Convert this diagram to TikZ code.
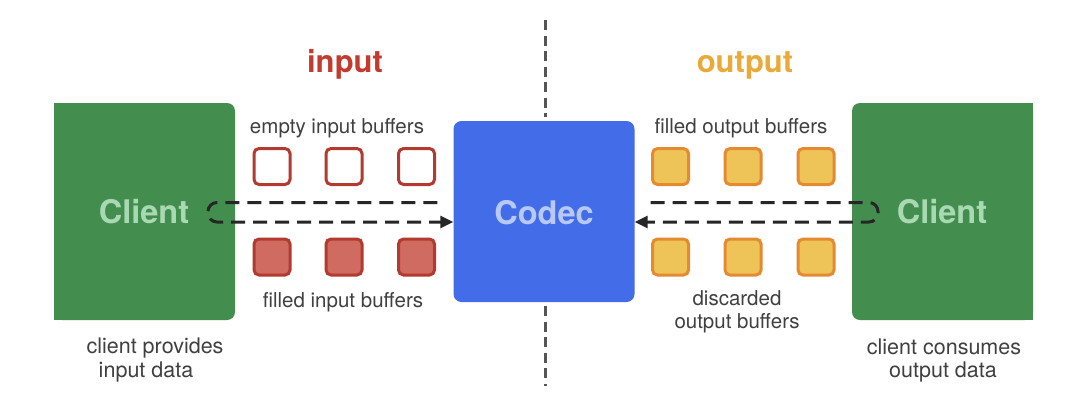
\documentclass[tikz,border=0pt]{standalone}
\usepackage{fontspec}
\setmainfont{TeX Gyre Heros}
\usetikzlibrary{arrows.meta,calc}
\definecolor{clientgreen}{HTML}{438E4E}
\definecolor{clienttext}{HTML}{A9D9B3}
\definecolor{codecblue}{HTML}{436DE8}
\definecolor{codectext}{HTML}{B8C9F7}
\definecolor{redstroke}{HTML}{B23A2F}
\definecolor{redfill}{HTML}{D06B62}
\definecolor{orstroke}{HTML}{E48A31}
\definecolor{orfill}{HTML}{EEC458}
\definecolor{intitle}{HTML}{C33B2F}
\definecolor{outtitle}{HTML}{EAAA3A}
\definecolor{labelgray}{HTML}{404040}
\definecolor{arrowdark}{HTML}{262626}
\definecolor{divgray}{HTML}{555555}
\tikzset{
  clientbox/.style={fill=clientgreen, minimum width=181pt, minimum height=217pt, rounded corners=8pt, inner sep=0pt},
  bigtext/.style={font=\fontsize{32.5}{38}\selectfont\bfseries},
  codecbox/.style={fill=codecblue, minimum width=181pt, minimum height=181pt, rounded corners=8pt, inner sep=0pt},
  emptybuf/.style={draw=redstroke, fill=white, line width=3pt, minimum size=36pt, rounded corners=5pt, inner sep=0pt},
  filledbuf/.style={draw=redstroke, fill=redfill, line width=3pt, minimum size=36pt, rounded corners=5pt, inner sep=0pt},
  outbuf/.style={draw=orstroke, fill=orfill, line width=3pt, minimum size=36pt, rounded corners=5pt, inner sep=0pt},
  lbl/.style={text=labelgray, font=\fontsize{20.5}{24}\selectfont, anchor=base, inner sep=0pt},
  botlbl/.style={text=labelgray, font=\fontsize{21.5}{26}\selectfont, anchor=base, inner sep=0pt},
  title/.style={font=\fontsize{31}{36}\selectfont\bfseries, anchor=base, inner sep=0pt},
  flow/.style={draw=arrowdark, line width=3pt, dash pattern=on 14pt off 8pt, rounded corners=9pt, -{Triangle[length=13pt,width=12pt]}},
  divider/.style={draw=divgray, line width=3pt, dash pattern=on 10pt off 5.5pt}
}
\begin{document}
\begin{tikzpicture}[x=1pt,y=-1pt]
\useasboundingbox[fill=white] (0,0) rectangle (1080,408);

% clients (left corners square on left client, right corners square on right client)
\fill[clientgreen] (54,103) rectangle (145,320);
\node[clientbox] (cl) at (144.5,211.5) {};
\fill[clientgreen] (942,103) rectangle (1033,320);
\node[clientbox] (cr) at (942.5,211.5) {};
\node[bigtext, text=clienttext, anchor=base, inner sep=0pt] (clt) at (144,223) {Client};
\node[bigtext, text=clienttext, anchor=base, inner sep=0pt] (crt) at (942,223) {Client};

% codec
\node[codecbox] (codec) at (544,211.5) {};
\node[bigtext, text=codectext, anchor=base, inner sep=0pt] (codect) at (544,224) {Codec};

% divider
\coordinate (d1) at (545,20);
\coordinate (d2) at (545,117);
\coordinate (d3) at (545,306);
\coordinate (d4) at (545,386);
\draw[divider] (d1) -- (d2);
\draw[divider] (d3) -- (d4);

% titles
\node[title, text=intitle] (tin) at (345,72) {input};
\node[title, text=outtitle] (tout) at (745,72) {output};

% input buffers
\node[emptybuf] (e1) at (272,166.5) {};
\node[emptybuf] (e2) at (344,166.5) {};
\node[emptybuf] (e3) at (416.5,166.5) {};
\node[filledbuf] (f1) at (272,257) {};
\node[filledbuf] (f2) at (344,257) {};
\node[filledbuf] (f3) at (416.5,257) {};

% output buffers
\node[outbuf] (o1) at (670.5,166.5) {};
\node[outbuf] (o2) at (743,166.5) {};
\node[outbuf] (o3) at (816,166.5) {};
\node[outbuf] (p1) at (670.5,257) {};
\node[outbuf] (p2) at (743,257) {};
\node[outbuf] (p3) at (816,257) {};

% labels
\node[lbl] (lemp) at (337,133.5) {empty input buffers};
\node[lbl] (lfin) at (343,307.5) {filled input buffers};
\node[lbl] (lfout) at (741,133) {filled output buffers};
\node[lbl] (ldis1) at (737,305) {discarded};
\node[lbl] (ldis2) at (737,328.5) {output buffers};
\node[botlbl] (lcp1) at (155,353.5) {client provides};
\node[botlbl] (lcp2) at (146,377.5) {input data};
\node[botlbl] (lcc1) at (944,354) {client consumes};
\node[botlbl] (lcc2) at (943,377.5) {output data};

% flows
\coordinate (ls) at ($(codec.west)+(-16,-9)$);
\coordinate (lt) at ($(codec.west)+(0,10.5)$);
\draw[flow] (ls) -- (208,202.5) -- (208,222) -- (lt);
\coordinate (rs) at ($(codec.east)+(16,-9)$);
\coordinate (rt) at ($(codec.east)+(0,10.5)$);
\draw[flow] (rs) -- (878,202.5) -- (878,222) -- (rt);
\end{tikzpicture}
\end{document}
